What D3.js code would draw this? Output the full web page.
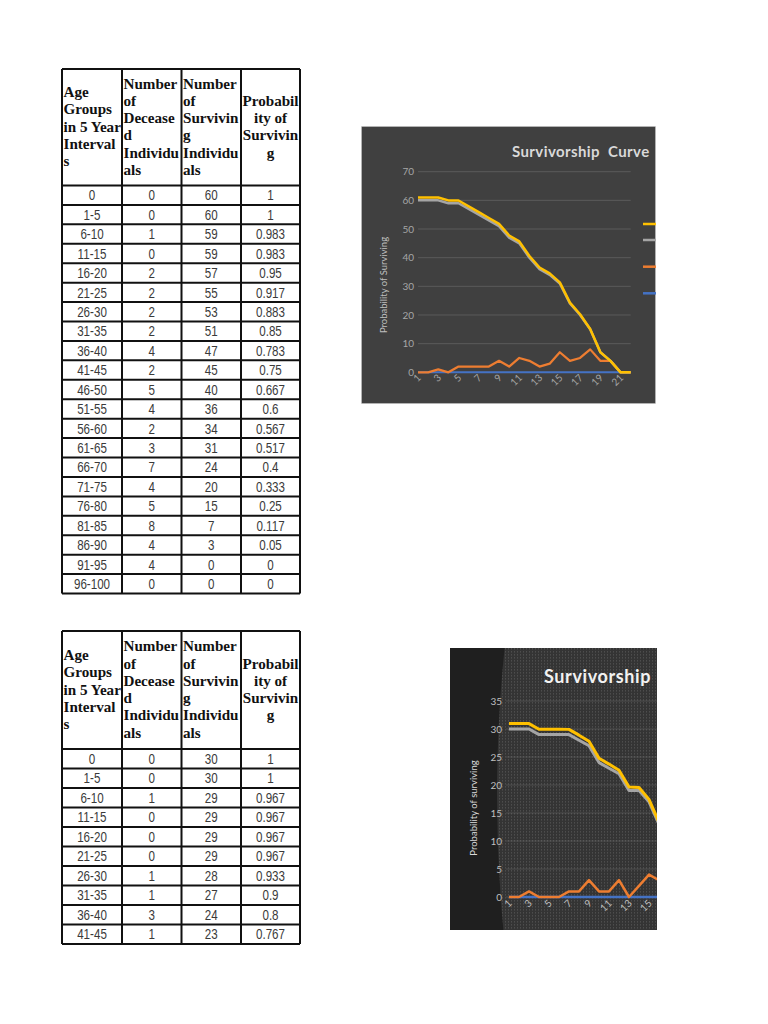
<!DOCTYPE html>
<html>
<head>
<meta charset="utf-8">
<script src="https://cdn.jsdelivr.net/npm/d3@7/dist/d3.min.js"></script>
<style>
  html, body { margin: 0; padding: 0; background: #fff; }
  svg { display: block; }
</style>
</head>
<body>
<div id="app"></div>
<script>
// ---- table data (population of 60) ----
const ageGroups1 = ["0","1-5","6-10","11-15","16-20","21-25","26-30","31-35","36-40","41-45",
  "46-50","51-55","56-60","61-65","66-70","71-75","76-80","81-85","86-90","91-95","96-100"];
const deceased1 = [0,0,1,0,2,2,2,2,4,2,5,4,2,3,7,4,5,8,4,4,0];
const surviving1 = [60,60,59,59,57,55,53,51,47,45,40,36,34,31,24,20,15,7,3,0,0];
const probability1 = ["1","1","0.983","0.983","0.95","0.917","0.883","0.85","0.783","0.75",
  "0.667","0.6","0.567","0.517","0.4","0.333","0.25","0.117","0.05","0","0"];

// ---- table data (population of 30) ----
const ageGroups2 = ["0","1-5","6-10","11-15","16-20","21-25","26-30","31-35","36-40","41-45"];
const deceased2 = [0,0,1,0,0,0,1,1,3,1];
const surviving2 = [30,30,29,29,29,29,28,27,24,23];
const probability2 = ["1","1","0.967","0.967","0.967","0.967","0.933","0.9","0.8","0.767"];

// ---- chart series (stacked line charts, one extra empty category on chart 1) ----
const chart1Age = [0,0,0,0,0,0,0,0,0,0,0,0,0,0,0,0,0,0,0,0,0,0];
const chart1Deceased = [0,0,1,0,2,2,2,2,4,2,5,4,2,3,7,4,5,8,4,4,0,0];
const chart1Surviving = [60,60,59,59,57,55,53,51,47,45,40,36,34,31,24,20,15,7,3,0,0,0];
const chart1Probability = [1,1,0.983,0.983,0.95,0.917,0.883,0.85,0.783,0.75,0.667,0.6,0.567,0.517,0.4,0.333,0.25,0.117,0.05,0,0,0];

const chart2Age = [0,0,0,0,0,0,0,0,0,0,0,0,0,0,0,0];
const chart2Deceased = [0,0,1,0,0,0,1,1,3,1,1,3,0,2,4,3];
const chart2Surviving = [30,30,29,29,29,29,28,27,24,23,22,19,19,17,13,10];
const chart2Probability = [1,1,0.967,0.967,0.967,0.967,0.933,0.9,0.8,0.767,0.733,0.633,0.633,0.567,0.433,0.333];

const yTicks1 = [0,10,20,30,40,50,60,70];
const yTicks2 = [0,5,10,15,20,25,30,35];

const headers = [
  {lines: ["Age","Groups","in 5 Year","Interval","s"], align: "start"},
  {lines: ["Number","of","Decease","d","Individu","als"], align: "start"},
  {lines: ["Number","of","Survivin","g","Individu","als"], align: "start"},
  {lines: ["Probabil","ity of","Survivin","g"], align: "middle"}
];

const seriesKeys = ["age","deceased","surviving","probability"];
const seriesColors = {age: "#4472c4", deceased: "#ed7d31", surviving: "#a5a5a5", probability: "#ffc000"};

const svg = d3.select("#app").append("svg")
  .attr("width", 768).attr("height", 1024);

svg.append("rect").attr("width", 768).attr("height", 1024).attr("fill", "#fff");

// ---------- tables ----------
function drawTable(top, headerH, rowH, rows) {
  const cols = [62, 122, 181.5, 241, 300];
  const lineH = 17.3;
  const g = svg.append("g");
  const bottom = top + headerH + rowH * rows.length;

  // header text, vertically centred in the header cell
  headers.forEach((h, i) => {
    const x = h.align === "start" ? cols[i] + 1.5 : (cols[i] + cols[i + 1]) / 2;
    const first = top + headerH / 2 - (h.lines.length - 1) * lineH / 2;
    h.lines.forEach((line, k) => {
      g.append("text")
        .attr("transform", `translate(${x},${first + k * lineH + 4.5}) scale(1.08,1)`)
        .attr("text-anchor", h.align)
        .attr("font-family", "Liberation Serif, Times New Roman, serif")
        .attr("font-weight", "bold")
        .attr("font-size", 14)
        .attr("fill", "#111")
        .text(line);
    });
  });

  // body text (narrow sans)
  rows.forEach((r, ri) => {
    const cy = top + headerH + rowH * ri + rowH / 2;
    r.forEach((v, ci) => {
      g.append("text")
        .attr("transform", `translate(${(cols[ci] + cols[ci + 1]) / 2},${cy + 5.2}) scale(0.8,1)`)
        .attr("text-anchor", "middle")
        .attr("font-family", "Liberation Sans, Arial, sans-serif")
        .attr("font-size", 14.5)
        .attr("fill", "#3a3a3a")
        .text(v);
    });
  });

  // grid lines
  const hLines = [top, top + headerH].concat(rows.map((r, i) => top + headerH + rowH * (i + 1)));
  g.selectAll(".h").data(hLines).join("line")
    .attr("x1", cols[0]).attr("x2", cols[4])
    .attr("y1", d => d).attr("y2", d => d)
    .attr("stroke", "#111").attr("stroke-width", 2);
  g.selectAll(".v").data(cols).join("line")
    .attr("class", "v")
    .attr("x1", d => d).attr("x2", d => d)
    .attr("y1", top).attr("y2", bottom)
    .attr("stroke", "#111").attr("stroke-width", 2);
}

drawTable(69, 116.5, 19.43, ageGroups1.map((a, i) => [a, deceased1[i], surviving1[i], probability1[i]]));
drawTable(631, 118, 19.5, ageGroups2.map((a, i) => [a, deceased2[i], surviving2[i], probability2[i]]));

// ---------- charts ----------
function stackSeries(age, dec, sur, prob) {
  const rows = age.map((a, i) => ({cat: i + 1, age: a, deceased: dec[i], surviving: sur[i], probability: prob[i]}));
  return d3.stack().keys(seriesKeys)(rows);
}

function drawChart(opt) {
  const defs = svg.append("defs");
  const clipId = "clip" + opt.id;
  defs.append("clipPath").attr("id", clipId)
    .append("rect").attr("x", opt.box[0]).attr("y", opt.box[1])
    .attr("width", opt.box[2] - opt.box[0]).attr("height", opt.box[3] - opt.box[1]);

  const g = svg.append("g").attr("clip-path", `url(#${clipId})`);
  opt.background(g, defs);

  const stacked = stackSeries(opt.age, opt.dec, opt.sur, opt.prob);
  const cats = opt.age.map((d, i) => i + 1);
  const x = d3.scalePoint().domain(cats).range(opt.xRange);
  const y = d3.scaleLinear().domain([0, opt.yMax]).range(opt.yRange);

  // gridlines
  g.append("g").selectAll("line").data(opt.yTicks).join("line")
    .attr("x1", opt.gridX[0]).attr("x2", opt.gridX[1])
    .attr("y1", d => y(d)).attr("y2", d => y(d))
    .attr("stroke", opt.gridColor).attr("stroke-width", 1);

  // y axis labels
  const yAxis = g.append("g")
    .attr("transform", `translate(${opt.yLabelX},0)`)
    .call(d3.axisLeft(y).tickValues(opt.yTicks).tickSize(0).tickPadding(0));
  yAxis.select(".domain").remove();
  yAxis.selectAll("text")
    .attr("font-family", "Lato, Open Sans, sans-serif")
    .attr("font-size", opt.tickSize).attr("fill", opt.tickColor);

  // x axis labels (every other category, rotated)
  const xAxis = g.append("g")
    .attr("transform", `translate(0,${opt.yRange[0]})`)
    .call(d3.axisBottom(x).tickValues(cats.filter(c => c % 2 === 1)).tickSize(0).tickPadding(0));
  xAxis.select(".domain").remove();
  xAxis.selectAll("text")
    .attr("font-family", "Lato, Open Sans, sans-serif")
    .attr("font-size", opt.tickSize).attr("fill", opt.tickColor)
    .attr("text-anchor", "end")
    .attr("dy", null).attr("y", 0)
    .attr("transform", `translate(3,${opt.xLabelDy}) rotate(-45)`);

  // lines
  const line = d3.line().x((d, i) => x(cats[i])).y(d => y(d[1]));
  g.append("g").selectAll("path").data(stacked).join("path")
    .attr("d", s => line(s))
    .attr("fill", "none")
    .attr("stroke", s => seriesColors[s.key])
    .attr("stroke-width", s => opt.widths[s.key])
    .attr("stroke-linejoin", "round");

  // y title
  g.append("text")
    .attr("transform", `translate(${opt.yTitle[0]},${opt.yTitle[1]}) rotate(-90)`)
    .attr("text-anchor", "middle")
    .attr("font-family", "Lato, Open Sans, sans-serif")
    .attr("font-size", opt.yTitleSize).attr("fill", opt.yTitleColor)
    .text(opt.yTitleText);

  // title
  g.append("text")
    .attr("x", opt.title[0]).attr("y", opt.title[1])
    .attr("font-family", "Lato, Open Sans, sans-serif")
    .attr("font-weight", "bold")
    .attr("font-size", opt.titleSize).attr("fill", opt.titleColor)
    .attr("letter-spacing", opt.titleSpacing)
    .attr("xml:space", "preserve")
    .text(opt.titleText);

  if (opt.legend) {
    g.append("g").selectAll("line").data(seriesKeys.slice().reverse()).join("line")
      .attr("x1", opt.legend.x).attr("x2", opt.legend.x + 20)
      .attr("y1", (d, i) => opt.legend.ys[i]).attr("y2", (d, i) => opt.legend.ys[i])
      .attr("stroke", d => seriesColors[d]).attr("stroke-width", 2.5);
  }
  return g;
}

// chart 1
drawChart({
  id: 1,
  box: [361, 126, 656, 404],
  background: (g) => {
    g.append("rect").attr("x", 361).attr("y", 126).attr("width", 295).attr("height", 278)
      .attr("fill", "#404040").attr("stroke", "#d9d9d9").attr("stroke-width", 1.5);
  },
  age: chart1Age, dec: chart1Deceased, sur: chart1Surviving, prob: chart1Probability,
  xRange: [418, 630.7], yMax: 70, yRange: [372.3, 171.7], yTicks: yTicks1,
  gridX: [418, 630.7], gridColor: "#5a5a5a",
  yLabelX: 414, tickSize: 10, tickColor: "#a6a6a6", xLabelDy: 6,
  widths: {age: 2, deceased: 2.25, surviving: 2.5, probability: 2.5},
  yTitle: [387, 285], yTitleSize: 9.5, yTitleColor: "#bfbfbf", yTitleText: "Probability of Surviving",
  title: [512, 157], titleSize: 15, titleColor: "#d9d9d9", titleSpacing: 0.4, titleText: "Survivorship  Curve",
  legend: {x: 643, ys: [224, 240, 266.7, 293.3]}
});

// chart 2
drawChart({
  id: 2,
  box: [450, 648, 657, 930],
  background: (g, defs) => {
    const pat = defs.append("pattern").attr("id", "dots")
      .attr("width", 3).attr("height", 3).attr("patternUnits", "userSpaceOnUse");
    pat.append("rect").attr("width", 3).attr("height", 3).attr("fill", "#343434");
    pat.append("rect").attr("x", 1).attr("y", 0).attr("width", 0.8).attr("height", 1.6)
      .attr("fill", "rgba(255,255,255,0.15)");
    g.append("rect").attr("x", 450).attr("y", 648).attr("width", 207).attr("height", 282)
      .attr("fill", "#1f1f1f");
    g.append("ellipse").attr("cx", 1200).attr("cy", 795).attr("rx", 703).attr("ry", 1000)
      .attr("fill", "url(#dots)");
  },
  age: chart2Age, dec: chart2Deceased, sur: chart2Surviving, prob: chart2Probability,
  xRange: [509, 659], yMax: 35, yRange: [897, 701], yTicks: yTicks2,
  gridX: [506, 657], gridColor: "rgba(255,255,255,0.13)",
  yLabelX: 502, tickSize: 10, tickColor: "#bfbfbf", xLabelDy: 7,
  widths: {age: 2.5, deceased: 2.5, surviving: 3, probability: 3},
  yTitle: [477, 808], yTitleSize: 9.5, yTitleColor: "#d9d9d9", yTitleText: "Probability of surviving",
  title: [544, 683], titleSize: 18, titleColor: "#f2f2f2", titleSpacing: 0.6, titleText: "Survivorship",
  legend: null
});
</script>
</body>
</html>
